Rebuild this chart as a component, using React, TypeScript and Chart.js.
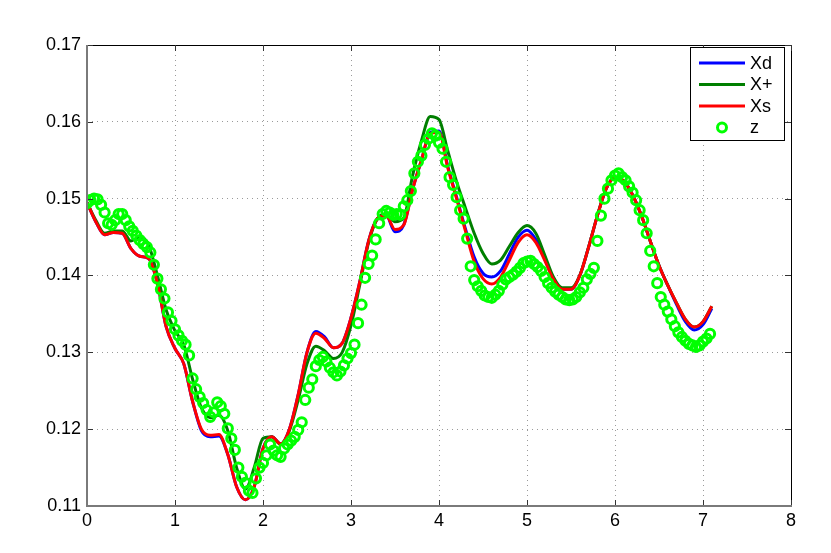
import React, { useEffect, useRef } from 'react';
import { Chart, registerables } from 'chart.js';

Chart.register(...registerables);

// sampling steps (time axis)
const LINE_STEP = 0.1;
const Z_STEP = 0.04;

const seriesLabels = ['Xd', 'X+', 'Xs', 'z'];
const seriesColors = ['#0000ff', '#007f00', '#ff0000', '#00ff00'];

const xTicks = [0, 1, 2, 3, 4, 5, 6, 7, 8];
const yTicks = [0.11, 0.12, 0.13, 0.14, 0.15, 0.16, 0.17];

// Xs (red), t = 0 .. 7.1 step 0.1
const xsValues = [
  0.1495, 0.1470, 0.1453, 0.1456, 0.1455, 0.1435, 0.1425, 0.1422, 0.1390, 0.1333,
  0.1305, 0.1285, 0.1236, 0.1200, 0.1192, 0.1193, 0.1167, 0.1125, 0.1108, 0.1125,
  0.1175, 0.1190, 0.1181, 0.1200, 0.1245, 0.1300, 0.1325, 0.1318, 0.1306, 0.1312,
  0.1345, 0.1392, 0.1445, 0.1474, 0.1478, 0.1460, 0.1466, 0.1512, 0.1550, 0.1585,
  0.1586, 0.1540, 0.1500, 0.1458, 0.1418, 0.1396, 0.1389, 0.1398, 0.1420, 0.1443,
  0.1453, 0.1443, 0.1420, 0.1395, 0.1382, 0.1382, 0.1400, 0.1437, 0.1478, 0.1513,
  0.1528, 0.1523, 0.1505, 0.1478, 0.1445, 0.1413, 0.1387, 0.1364, 0.1343, 0.1333,
  0.1340, 0.1360,
];

// Xd (blue)
const xdValues = [
  0.1495, 0.1470, 0.1453, 0.1456, 0.1455, 0.1435, 0.1425, 0.1422, 0.1390, 0.1333,
  0.1305, 0.1285, 0.1236, 0.1198, 0.1190, 0.1191, 0.1167, 0.1125, 0.1108, 0.1125,
  0.1175, 0.1190, 0.1181, 0.1200, 0.1245, 0.1300, 0.1327, 0.1320, 0.1306, 0.1312,
  0.1345, 0.1392, 0.1445, 0.1474, 0.1478, 0.1457, 0.1466, 0.1512, 0.1550, 0.1586,
  0.1588, 0.1542, 0.1502, 0.1461, 0.1424, 0.1403, 0.1398, 0.1406, 0.1428, 0.1450,
  0.1459, 0.1447, 0.1422, 0.1395, 0.1382, 0.1382, 0.1400, 0.1437, 0.1478, 0.1513,
  0.1528, 0.1523, 0.1505, 0.1478, 0.1445, 0.1413, 0.1387, 0.1362, 0.1340, 0.1329,
  0.1336, 0.1357,
];

// X+ (dark green)
const xPlusValues = [
  0.1495, 0.1472, 0.1455, 0.1458, 0.1458, 0.1445, 0.1450, 0.1440, 0.1400, 0.1355,
  0.1328, 0.1310, 0.1265, 0.1228, 0.1215, 0.1218, 0.1198, 0.1150, 0.1122, 0.1150,
  0.1188, 0.1190, 0.1180, 0.1198, 0.1238, 0.1285, 0.1308, 0.1302, 0.1292, 0.1300,
  0.1335, 0.1388, 0.1443, 0.1474, 0.1480, 0.1470, 0.1475, 0.1530, 0.1575, 0.1607,
  0.1603, 0.1562, 0.1522, 0.1488, 0.1455, 0.1429, 0.1415, 0.1420, 0.1438, 0.1456,
  0.1465, 0.1455, 0.1427, 0.1398, 0.1384, 0.1384, 0.1400, 0.1437, 0.1478, 0.1513,
  0.1528, 0.1523, 0.1505, 0.1478, 0.1445, 0.1413, 0.1387, 0.1364, 0.1343, 0.1333,
  0.1340, 0.1360,
];

// z (measurements), t = 0 .. 7.08 step 0.04
const zValues = [
  0.1494, 0.1498, 0.1500, 0.1499, 0.1492, 0.1482, 0.1468, 0.1466, 0.1472, 0.1480,
  0.1480, 0.1472, 0.1464, 0.1458, 0.1452, 0.1446, 0.1441, 0.1437, 0.1430, 0.1414,
  0.1396, 0.1382, 0.1370, 0.1352, 0.1341,
  0.1330, 0.1322, 0.1315, 0.1310, 0.1296, 0.1266, 0.1252, 0.1242, 0.1234, 0.1225,
  0.1216, 0.1222, 0.1235, 0.1230, 0.1220, 0.1201, 0.1188, 0.1173, 0.1150, 0.1138,
  0.1130, 0.1120, 0.1117, 0.1136, 0.1150,
  0.1156, 0.1166, 0.1180, 0.1172, 0.1166, 0.1164, 0.1175, 0.1180, 0.1185, 0.1190,
  0.1199, 0.1209, 0.1238, 0.1254, 0.1265, 0.1282, 0.1290, 0.1294, 0.1288, 0.1280,
  0.1274, 0.1270, 0.1275, 0.1283, 0.1292,
  0.1299, 0.1310, 0.1338, 0.1362, 0.1397, 0.1415, 0.1426, 0.1447, 0.1468, 0.1480,
  0.1484, 0.1482, 0.1479, 0.1480, 0.1479, 0.1490, 0.1498, 0.1510, 0.1533, 0.1548,
  0.1556, 0.1570, 0.1578, 0.1585, 0.1582,
  0.1573, 0.1565, 0.1548, 0.1528, 0.1518, 0.1502, 0.1485, 0.1474, 0.1448, 0.1412,
  0.1394, 0.1386, 0.1380, 0.1374, 0.1372, 0.1371, 0.1375, 0.1380, 0.1388, 0.1395,
  0.1398, 0.1401, 0.1405, 0.1410, 0.1416,
  0.1418, 0.1419, 0.1415, 0.1411, 0.1406, 0.1398, 0.1390, 0.1384, 0.1379, 0.1375,
  0.1372, 0.1369, 0.1368, 0.1369, 0.1372, 0.1378, 0.1384, 0.1395, 0.1402, 0.1410,
  0.1445, 0.1478, 0.1500, 0.1513, 0.1524,
  0.1530, 0.1533, 0.1528, 0.1524, 0.1516, 0.1508, 0.1498, 0.1485, 0.1472, 0.1455,
  0.1432, 0.1412, 0.1390, 0.1372, 0.1362, 0.1353, 0.1343, 0.1334, 0.1326, 0.1320,
  0.1315, 0.1311, 0.1309, 0.1307, 0.1309,
  0.1314, 0.1318, 0.1324,
];

const FONT = "'Liberation Sans', Arial, Helvetica, sans-serif";

const toPoints = (vals: number[], step: number) =>
  vals.map((y, i) => ({ x: Math.round(i * step * 1000) / 1000, y }));

const framePlugin = {
  id: 'matlabFrame',
  afterDraw(chart: any) {
    const { ctx, chartArea } = chart;
    const { left, right, top, bottom } = chartArea;
    const xs = chart.scales.x;
    const ys = chart.scales.y;
    ctx.save();
    ctx.setLineDash([]);
    // top & right
    ctx.strokeStyle = '#000000';
    ctx.lineWidth = 1;
    ctx.beginPath();
    ctx.moveTo(left, top + 0.5);
    ctx.lineTo(right + 0.5, top + 0.5);
    ctx.lineTo(right + 0.5, bottom);
    ctx.stroke();
    // ticks inward
    const tl = 6;
    ctx.beginPath();
    xTicks.forEach((t) => {
      const px = Math.round(xs.getPixelForValue(t)) + 0.5;
      ctx.moveTo(px, bottom);
      ctx.lineTo(px, bottom - tl);
      ctx.moveTo(px, top);
      ctx.lineTo(px, top + tl);
    });
    yTicks.forEach((t) => {
      const py = Math.round(ys.getPixelForValue(t)) + 0.5;
      ctx.moveTo(left, py);
      ctx.lineTo(left + tl, py);
      ctx.moveTo(right, py);
      ctx.lineTo(right - tl, py);
    });
    ctx.strokeStyle = '#333333';
    ctx.stroke();
    // left & bottom
    ctx.strokeStyle = '#7a7a7a';
    ctx.lineWidth = 2;
    ctx.beginPath();
    ctx.moveTo(left, top);
    ctx.lineTo(left, bottom);
    ctx.lineTo(right + 1, bottom);
    ctx.stroke();

    // legend box
    const bx = 690.5, by = 47.5, bw = 94, bh = 93;
    ctx.fillStyle = '#ffffff';
    ctx.fillRect(bx, by, bw, bh);
    ctx.strokeStyle = '#000000';
    ctx.lineWidth = 1;
    ctx.strokeRect(bx, by, bw, bh);
    const rows = [63, 84.5, 106, 127.5];
    ctx.font = `18px ${FONT}`;
    ctx.textBaseline = 'middle';
    ctx.textAlign = 'left';
    seriesLabels.forEach((lab, i) => {
      const y = rows[i];
      ctx.strokeStyle = seriesColors[i];
      ctx.lineWidth = 3;
      ctx.beginPath();
      if (i < 3) {
        ctx.moveTo(699, y);
        ctx.lineTo(745, y);
      } else {
        ctx.arc(722, y, 4.5, 0, Math.PI * 2);
      }
      ctx.stroke();
      ctx.fillStyle = '#000000';
      ctx.fillText(lab, 750, y + 1);
    });
    ctx.restore();
  },
};

export default function App() {
  const canvasRef = useRef<HTMLCanvasElement | null>(null);

  useEffect(() => {
    const canvas = canvasRef.current;
    if (!canvas) return;
    const lineDs = (label: string, color: string, vals: number[], order: number) => ({
      label,
      data: toPoints(vals, LINE_STEP),
      borderColor: color,
      backgroundColor: color,
      borderWidth: 3,
      pointRadius: 0,
      fill: false,
      cubicInterpolationMode: 'monotone' as const,
      order,
    });
    const chart = new Chart(canvas, {
      type: 'line',
      data: {
        datasets: [
          lineDs(seriesLabels[0], seriesColors[0], xdValues, 4),
          lineDs(seriesLabels[1], seriesColors[1], xPlusValues, 3),
          lineDs(seriesLabels[2], seriesColors[2], xsValues, 2),
          {
            label: seriesLabels[3],
            data: toPoints(zValues, Z_STEP),
            showLine: false,
            pointRadius: 4.6,
            pointBorderWidth: 3,
            pointBorderColor: seriesColors[3],
            pointBackgroundColor: 'rgba(0,0,0,0)',
            borderColor: seriesColors[3],
            backgroundColor: 'rgba(0,0,0,0)',
            order: 1,
          } as any,
        ],
      },
      options: {
        responsive: false,
        animation: false,
        devicePixelRatio: 1,
        layout: { padding: { top: 45, right: 40, left: 0, bottom: 0 } },
        plugins: {
          legend: { display: false },
          tooltip: { enabled: false },
        },
        scales: {
          x: {
            type: 'linear',
            min: 0,
            max: 8,
            afterFit: (s: any) => { s.height = 47; },
            afterBuildTicks: (s: any) => { s.ticks = xTicks.map((v) => ({ value: v })); },
            ticks: {
              padding: 4,
              color: '#000000',
              font: { family: FONT, size: 18 },
              maxRotation: 0,
              callback: (v: any) => String(v),
            },
            grid: { color: '#9a9a9a', lineWidth: 1, drawTicks: false },
            border: { display: false, dash: [1, 4] },
          },
          y: {
            type: 'linear',
            min: 0.11,
            max: 0.17,
            afterFit: (s: any) => { s.width = 87; },
            afterBuildTicks: (s: any) => { s.ticks = yTicks.map((v) => ({ value: v })); },
            ticks: {
              padding: 6,
              color: '#000000',
              font: { family: FONT, size: 18 },
              callback: (v: any) => Number(v).toFixed(2),
            },
            grid: { color: '#9a9a9a', lineWidth: 1, drawTicks: false },
            border: { display: false, dash: [1, 4] },
          },
        },
      },
      plugins: [framePlugin],
    });
    return () => chart.destroy();
  }, []);

  return (
    <div style={{ position: 'absolute', left: 0, top: 0, width: 831, height: 553, background: '#ffffff' }}>
      <canvas ref={canvasRef} width={831} height={553} style={{ display: 'block' }} />
    </div>
  );
}
